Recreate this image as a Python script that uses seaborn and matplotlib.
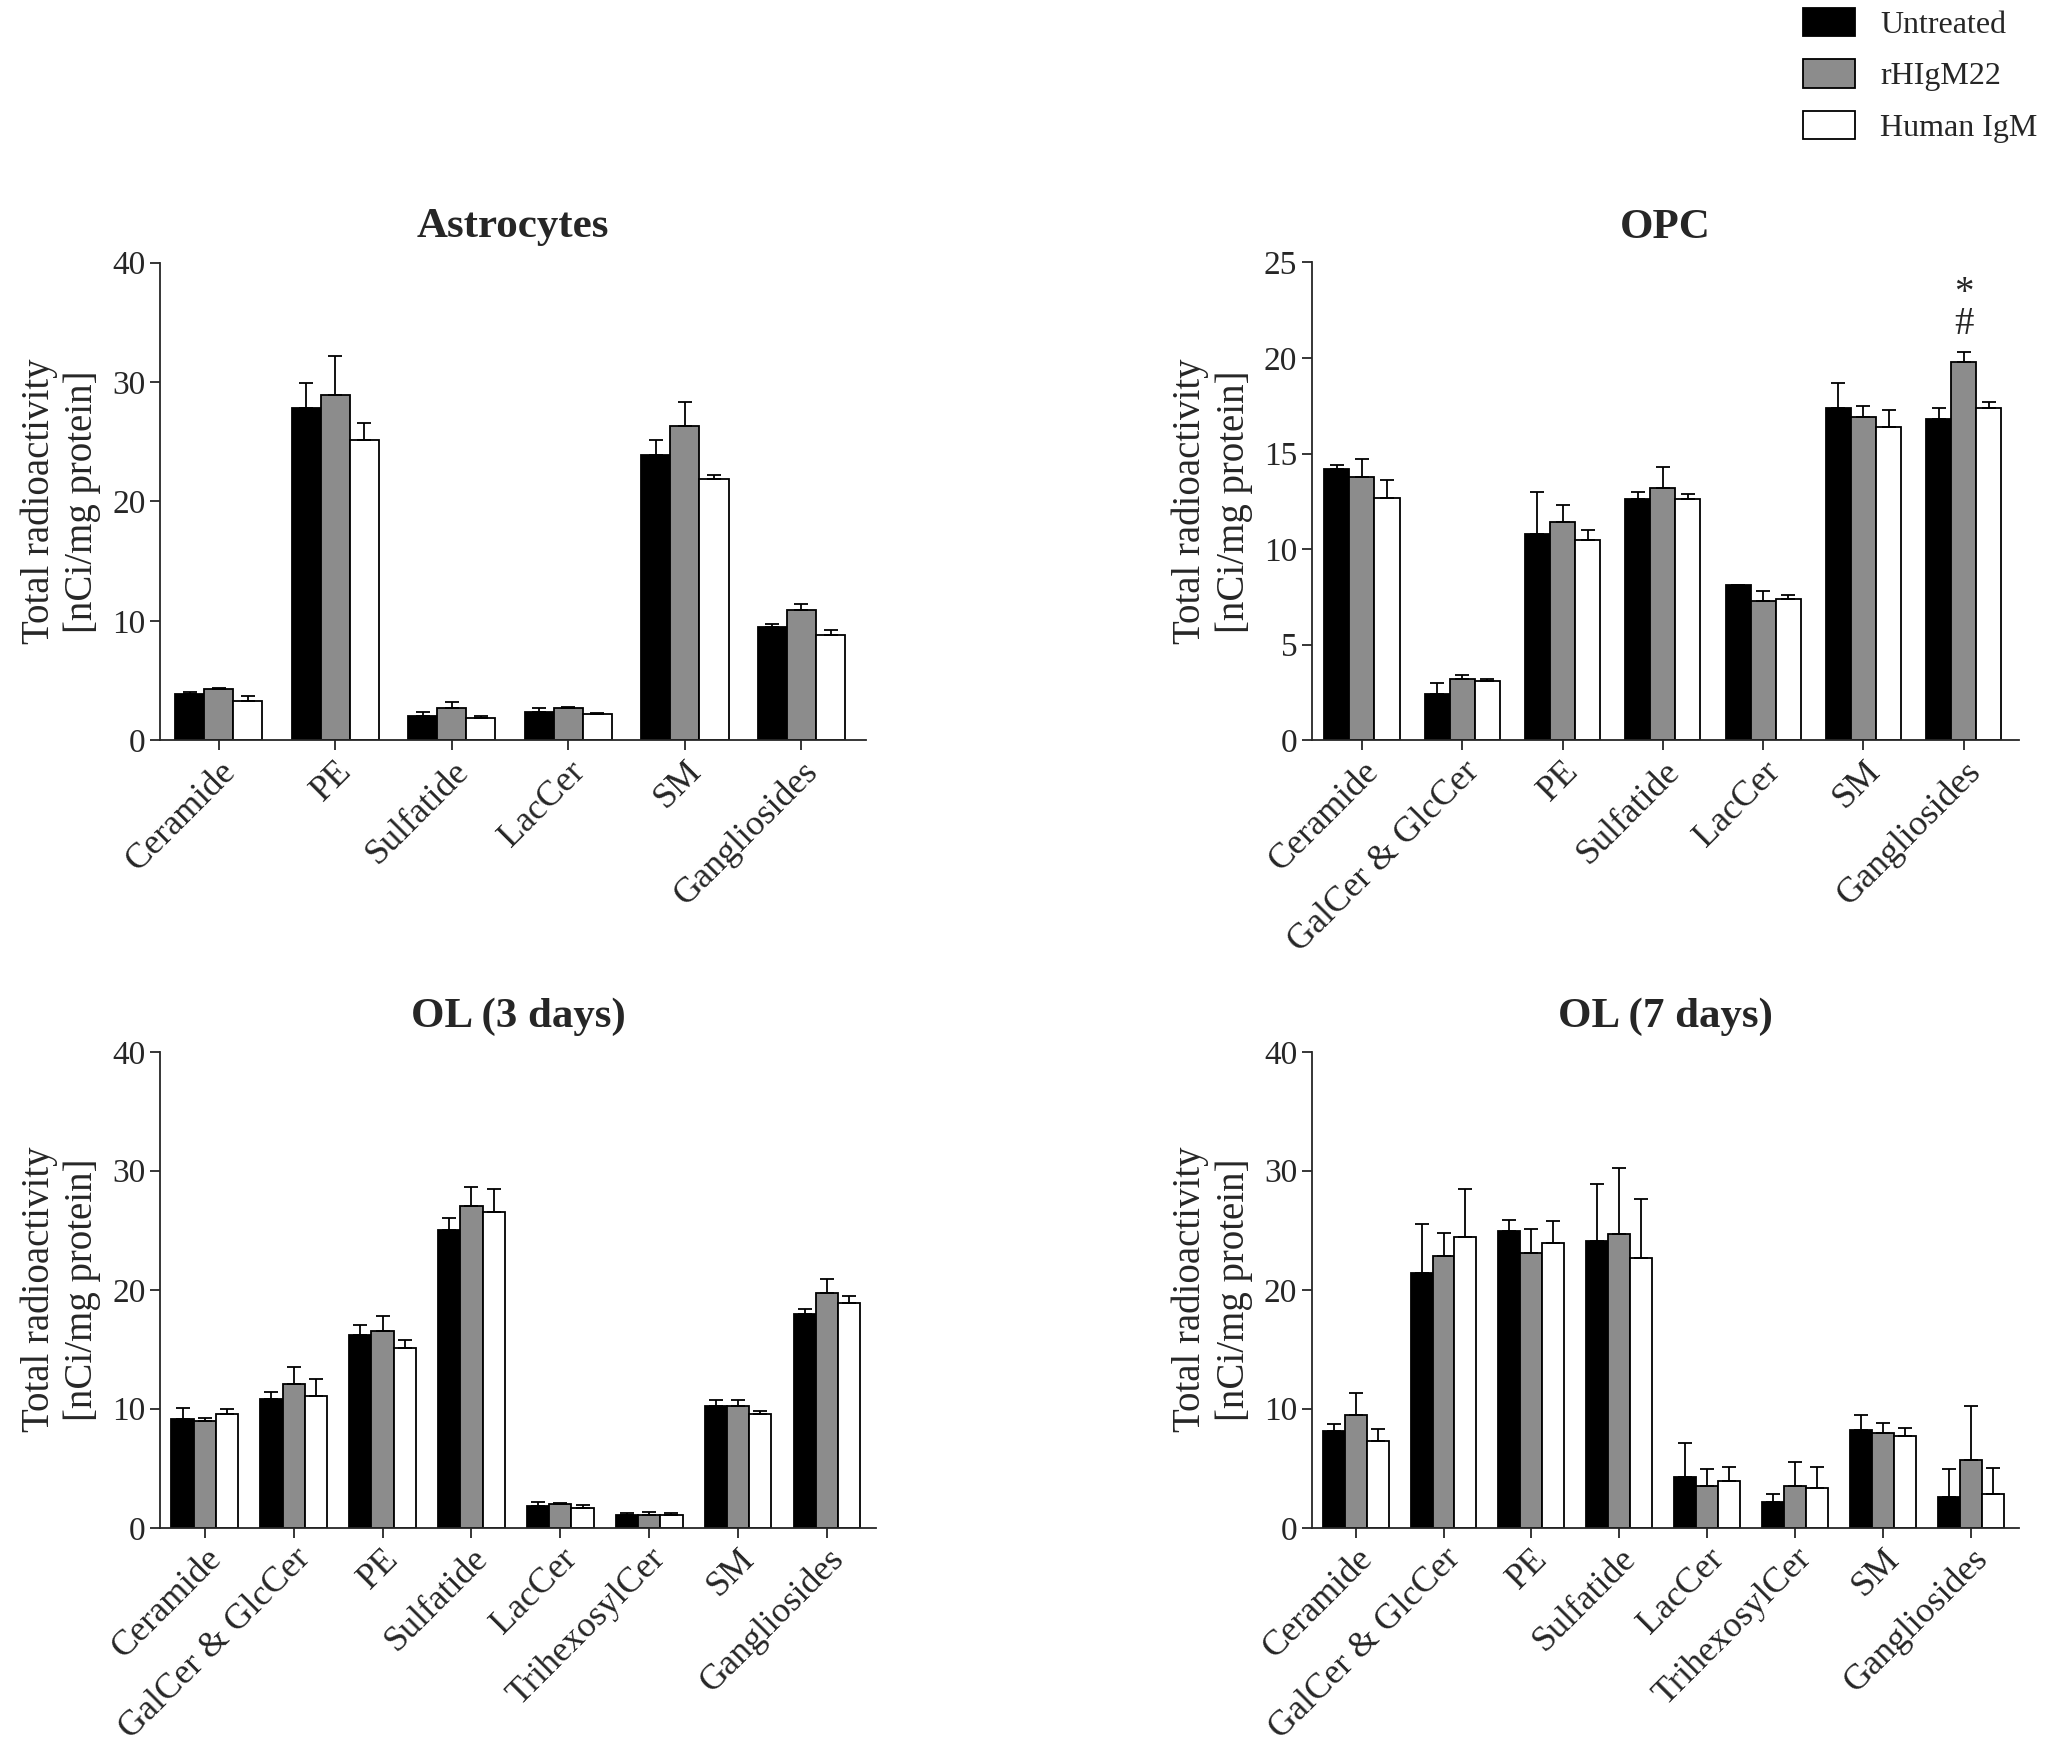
import numpy as np, pandas as pd
import matplotlib
matplotlib.use("Agg")
import matplotlib.pyplot as plt
import seaborn as sns

sns.set_style("ticks")
plt.rcParams['font.family'] = ['Liberation Serif', 'DejaVu Serif']

groups = ["Untreated", "rHIgM22", "Human IgM"]
colors = ["#000000", "#8c8c8c", "#ffffff"]

astro_cats = ["Ceramide", "PE", "Sulfatide", "LacCer", "SM", "Gangliosides"]
astro_mean = [[3.9, 27.8, 2.0, 2.4, 23.9, 9.5],
              [4.3, 28.9, 2.7, 2.7, 26.3, 10.9],
              [3.3, 25.1, 1.9, 2.2, 21.9, 8.8]]
astro_err = [[0.1, 2.1, 0.4, 0.3, 1.2, 0.2],
             [0.1, 3.3, 0.5, 0.1, 2.0, 0.5],
             [0.4, 1.5, 0.1, 0.1, 0.3, 0.4]]

opc_cats = ["Ceramide", "GalCer & GlcCer", "PE", "Sulfatide", "LacCer", "SM", "Gangliosides"]
opc_mean = [[14.2, 2.4, 10.8, 12.6, 8.1, 17.4, 16.8],
            [13.8, 3.2, 11.4, 13.2, 7.3, 16.9, 19.8],
            [12.7, 3.1, 10.5, 12.6, 7.4, 16.4, 17.4]]
opc_err = [[0.2, 0.6, 2.2, 0.4, 0.05, 1.3, 0.6],
           [0.9, 0.2, 0.9, 1.1, 0.5, 0.6, 0.5],
           [0.9, 0.1, 0.5, 0.3, 0.2, 0.9, 0.3]]

ol_cats = ["Ceramide", "GalCer & GlcCer", "PE", "Sulfatide", "LacCer", "TrihexosylCer", "SM", "Gangliosides"]
ol3_mean = [[9.1, 10.8, 16.2, 25.0, 1.8, 1.1, 10.2, 18.0],
            [9.0, 12.1, 16.5, 27.0, 2.0, 1.1, 10.2, 19.7],
            [9.6, 11.1, 15.1, 26.5, 1.7, 1.1, 9.6, 18.9]]
ol3_err = [[1.0, 0.6, 0.8, 1.0, 0.4, 0.1, 0.5, 0.4],
           [0.2, 1.4, 1.3, 1.6, 0.1, 0.2, 0.5, 1.2],
           [0.4, 1.4, 0.7, 2.0, 0.2, 0.1, 0.2, 0.6]]
ol7_mean = [[8.1, 21.4, 24.9, 24.1, 4.3, 2.2, 8.2, 2.6],
            [9.5, 22.8, 23.1, 24.7, 3.5, 3.5, 8.0, 5.7],
            [7.3, 24.4, 23.9, 22.7, 3.9, 3.3, 7.7, 2.8]]
ol7_err = [[0.6, 4.1, 1.0, 4.8, 2.8, 0.6, 1.3, 2.3],
           [1.8, 2.0, 2.0, 5.5, 1.4, 2.0, 0.8, 4.5],
           [1.0, 4.1, 1.9, 4.9, 1.2, 1.8, 0.7, 2.2]]

fig = plt.figure(figsize=(20.56, 17.5), dpi=100)
panels = [
    ("Astrocytes", astro_cats, astro_mean, astro_err, [0.078, 0.577, 0.343, 0.273], 40, 10),
    ("OPC", opc_cats, opc_mean, opc_err, [0.638, 0.577, 0.344, 0.273], 25, 5),
    ("OL (3 days)", ol_cats, ol3_mean, ol3_err, [0.078, 0.127, 0.348, 0.272], 40, 10),
    ("OL (7 days)", ol_cats, ol7_mean, ol7_err, [0.638, 0.127, 0.344, 0.272], 40, 10),
]
for title, cats, means, errs, pos, ymax, step in panels:
    ax = fig.add_axes(pos)
    rows = []
    for g, m in zip(groups, means):
        for c, v in zip(cats, m):
            rows.append({"cat": c, "grp": g, "val": v})
    df = pd.DataFrame(rows)
    sns.barplot(data=df, x="cat", y="val", hue="grp", order=cats, hue_order=groups,
                palette=colors, edgecolor="black", linewidth=1.3, errorbar=None,
                width=0.75, ax=ax, legend=False)
    for cont, m, e in zip(ax.containers, means, errs):
        xs = [p.get_x() + p.get_width() / 2 for p in cont]
        ax.errorbar(xs, m, yerr=[np.zeros(len(e)), e], fmt="none", ecolor="black",
                    elinewidth=1.3, capsize=5, capthick=1.3)
    ax.set_ylim(0, ymax)
    ax.set_yticks(np.arange(0, ymax + 1, step))
    ax.set_xlim(-0.5, len(cats) - 0.45)
    ax.set_xlabel("")
    ax.set_ylabel("Total radioactivity\n[nCi/mg protein]", fontsize=28, labelpad=8)
    ax.set_title(title, fontsize=31, fontweight="bold", pad=18)
    ax.tick_params(axis="both", labelsize=24, width=1.3, length=7)
    plt.setp(ax.get_xticklabels(), rotation=45, ha="right", rotation_mode="anchor", fontsize=26)
    for s in ["left", "bottom"]:
        ax.spines[s].set_linewidth(1.3)
    sns.despine(ax=ax)
    if title == "OPC":
        p = ax.containers[1][6]
        xc = p.get_x() + p.get_width() / 2
        ax.text(xc, 20.8, "#", ha="center", va="bottom", fontsize=28)
        ax.text(xc, 22.4, "*", ha="center", va="bottom", fontsize=28)

from matplotlib.patches import Patch
handles = [Patch(facecolor=c, edgecolor="black", linewidth=1.3) for c in colors]
fig.legend(handles, groups, loc="upper right", bbox_to_anchor=(1.005, 1.012), frameon=False,
           fontsize=23, handlelength=1.6, handleheight=1.0, labelspacing=0.6)
fig.savefig("out.png", dpi=100)
